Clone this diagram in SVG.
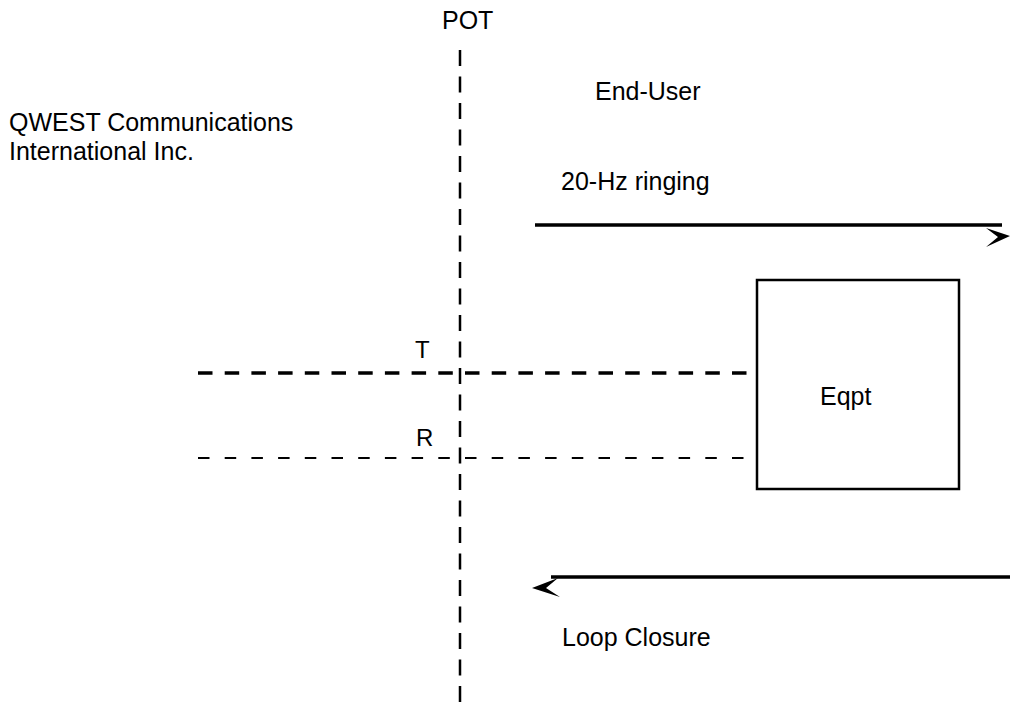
<svg xmlns="http://www.w3.org/2000/svg" width="1010" height="702" viewBox="0 0 1010 702">
<style>
text{font-family:"Liberation Sans",Arial,sans-serif;font-size:25px;fill:#000}
.frame{fill:none;stroke:#000;stroke-width:2.5}
.ln{stroke:#000;fill:none}
</style>
<rect width="1010" height="702" fill="#fff"/>
<g id="labels">
<text x="442" y="29">POT</text>
<text x="595" y="100">End-User</text>
<text x="9" y="131">QWEST Communications</text>
<text x="9" y="160">International Inc.</text>
<text x="561" y="190">20-Hz ringing</text>
<text x="415" y="358" style="font-size:24px">T</text>
<text x="416" y="446" style="font-size:24px">R</text>
<text x="562" y="646">Loop Closure</text>
</g>
<g id="connectors">
<line class="ln" x1="460" y1="50" x2="460" y2="702" stroke-width="2.5" stroke-dasharray="16 10.5"/>
<line class="ln" x1="198" y1="373" x2="757" y2="373" stroke-width="3.5" stroke-dasharray="14.5 12.2"/>
<line class="ln" x1="198" y1="458" x2="757" y2="458" stroke-width="1.8" stroke-dasharray="11.5 15.2"/>
<line class="ln" x1="535" y1="225" x2="1002" y2="225" stroke-width="3.3"/>
<polygon points="986,228 1010,236 986,247 998,237" fill="#000"/>
<line class="ln" x1="551" y1="577" x2="1010" y2="577" stroke-width="3.3"/>
<polygon points="558,578 532,588 560,597 546,588" fill="#000"/>
</g>
<g id="eqpt">
<rect class="frame" x="757" y="280" width="202" height="209"/>
<text x="820" y="405">Eqpt</text>
</g>
</svg>
